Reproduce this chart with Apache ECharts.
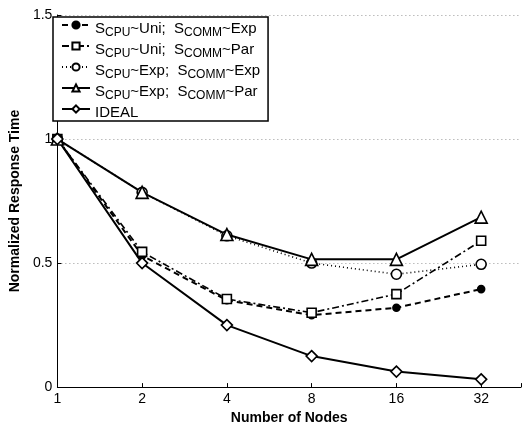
<!DOCTYPE html>
<html><head><meta charset="utf-8">
<script src="https://cdn.jsdelivr.net/npm/echarts@6/dist/echarts.min.js"></script>
<style>html,body{margin:0;padding:0;background:#fff}#c{width:524px;height:430px}</style>
</head><body><div id="c"></div>
<script>
const nodes = [1, 2, 4, 8, 16, 32];
const uniExp = [1, 0.53, 0.35, 0.29, 0.32, 0.395];
const uniPar = [1, 0.545, 0.355, 0.30, 0.375, 0.59];
const expExp = [1, 0.785, 0.61, 0.50, 0.455, 0.495];
const expPar = [1, 0.785, 0.615, 0.515, 0.515, 0.685];
const ideal = [1, 0.5, 0.25, 0.125, 0.0625, 0.03125];
const yTicks = [0, 0.5, 1, 1.5];

const legendRich = {
  'UE': '{n|S}{s|CPU}{n|~Uni;  S}{s|COMM}{n|~Exp}',
  'UP': '{n|S}{s|CPU}{n|~Uni;  S}{s|COMM}{n|~Par}',
  'EE': '{n|S}{s|CPU}{n|~Exp;  S}{s|COMM}{n|~Exp}',
  'EP': '{n|S}{s|CPU}{n|~Exp;  S}{s|COMM}{n|~Par}',
  'IDEAL': '{n|IDEAL}'
};

const toXY = arr => arr.map((v, i) => [Math.log2(nodes[i]), v]);
const ff = 'Liberation Sans, Arial, Helvetica, sans-serif';

function mk(name, data, symbol, size, lineType, width, fill) {
  return {
    name, type: 'line', data: toXY(data), symbol, symbolSize: size,
    showSymbol: true,
    lineStyle: { color: '#000', width: width, type: lineType },
    itemStyle: { color: fill, borderColor: '#000', borderWidth: 1.6 },
    emphasis: { disabled: true }, animation: false, z: 3
  };
}

const chart = echarts.init(document.getElementById('c'), null, { renderer: 'canvas' });
chart.setOption({
  animation: false,
  grid: { left: 50, right: 0, top: 15, bottom: 41, containLabel: false },
  xAxis: {
    type: 'value', min: 0, max: 5.47, interval: 1,
    name: 'Number of Nodes', nameLocation: 'middle', nameGap: 23,
    nameTextStyle: { fontFamily: ff, fontWeight: 'bold', fontSize: 14, color: '#000' },
    axisLine: { lineStyle: { color: '#000', width: 1 } },
    axisTick: { inside: true, length: 4, lineStyle: { color: '#000' } },
    axisLabel: {
      fontFamily: ff, fontSize: 14, color: '#000', margin: 5,
      formatter: v => Number.isInteger(v) && v <= 5 ? String(Math.pow(2, v)) : ''
    },
    splitLine: { show: false }
  },
  yAxis: {
    type: 'value', min: 0, max: 1.5, interval: 0.5,
    name: 'Normalized Response Time', nameLocation: 'middle', nameGap: 30,
    nameTextStyle: { fontFamily: ff, fontWeight: 'bold', fontSize: 14, color: '#000' },
    axisLine: { show: true, lineStyle: { color: '#000', width: 1 } },
    axisTick: { show: true, inside: true, length: 4, lineStyle: { color: '#000' } },
    axisLabel: {
      fontFamily: ff, fontSize: 14, color: '#000', margin: 5,
      formatter: v => yTicks.includes(v) ? String(v) : ''
    },
    splitLine: { show: true, lineStyle: { color: '#999', type: [1, 3], width: 1 } }
  },
  legend: {
    orient: 'vertical', left: 53, top: 17,
    padding: [1, 8, 1, 8],
    borderColor: '#000', borderWidth: 1.5, backgroundColor: '#fff',
    itemWidth: 28, itemHeight: 9, itemGap: 0,
    data: ['UE', 'UP', 'EE', 'EP', 'IDEAL'],
    formatter: n => legendRich[n],
    textStyle: {
      fontFamily: ff, color: '#000',
      rich: {
        n: { fontFamily: ff, fontSize: 15, color: '#000', lineHeight: 14, padding: [3, 0, 0, 0], verticalAlign: 'top' },
        s: { fontFamily: ff, fontSize: 12, color: '#000', lineHeight: 10, padding: [9, 0, 0, 0], verticalAlign: 'top' }
      }
    }
  },
  series: [
    mk('UE', uniExp, 'circle', 7, [6, 4], 2, '#000'),
    mk('UP', uniPar, 'rect', 9, [7, 3, 2, 3], 1.6, '#fff'),
    mk('EE', expExp, 'circle', 10, [1, 3], 1.6, '#fff'),
    mk('EP', expPar, 'triangle', 12, 'solid', 2, '#fff'),
    mk('IDEAL', ideal, 'diamond', 11, 'solid', 2, '#fff')
  ]
});
</script></body></html>
